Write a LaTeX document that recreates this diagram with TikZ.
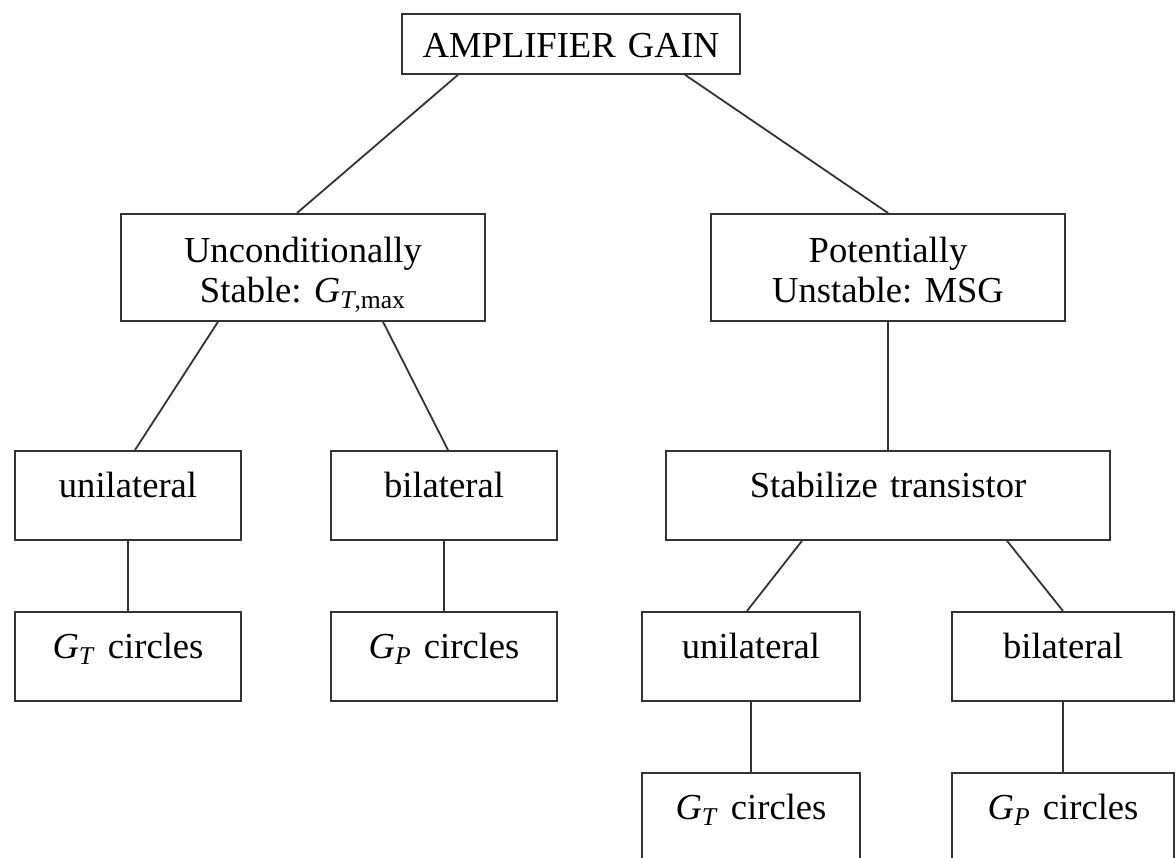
\documentclass[tikz,border=0pt]{standalone}
\usepackage{fontspec}
\setmainfont{Liberation Serif}
\frenchspacing
\newcommand{\gain}[2]{\textit{G}\textsubscript{#1#2}}
\begin{document}
\begin{tikzpicture}[x=0.5pt,y=-0.5pt,
    box/.style={draw=black!80,line width=0.9pt,text width=#1,align=center,
      inner sep=0pt,anchor=north,text height=23.5pt,text depth=21pt,
      font=\fontsize{18.3}{20}\selectfont},
    link/.style={black!80,line width=0.9pt}]
  \useasboundingbox (0,0) rectangle (1176,857);
  % top
  \node[box=169pt,text height=22pt,text depth=8pt] (amp) at (571,13) {AMPLIFIER GAIN};
  \node[box=182pt,text height=24.5pt,text depth=29pt] (uncond) at (303,213)
    {Unconditionally\\Stable: \gain{\textit{T}}{,max}};
  \node[box=177pt,text height=24.5pt,text depth=29pt] (pot) at (888,213)
    {Potentially\\Unstable: MSG};
  % third row
  \node[box=113pt] (uni1) at (128,450) {unilateral};
  \node[box=113pt] (bi1) at (444,450) {bilateral};
  \node[box=222pt] (stab) at (888,450) {Stabilize transistor};
  % fourth row
  \node[box=113pt] (gt1) at (128,611) {\gain{\textit{T}}{} circles};
  \node[box=113pt] (gp1) at (444,611) {\gain{\textit{P}}{} circles};
  \node[box=109pt] (uni2) at (751,611) {unilateral};
  \node[box=111pt] (bi2) at (1063,611) {bilateral};
  % last row, cut off at the bottom
  \node[box=109pt] (gt2) at (751,772) {\gain{\textit{T}}{} circles};
  \node[box=111pt] (gp2) at (1063,772) {\gain{\textit{P}}{} circles};
  % slanted links
  \draw[link] ([xshift=-56.5pt]amp.south) -- ([xshift=-3pt]uncond.north);
  \draw[link] ([xshift=57pt]amp.south) -- (pot.north);
  \draw[link] ([xshift=-42.5pt]uncond.south) -- ([xshift=3.5pt]uni1.north);
  \draw[link] ([xshift=40pt]uncond.south) -- ([xshift=2pt]bi1.north);
  \draw[link] ([xshift=-43pt]stab.south) -- ([xshift=-2pt]uni2.north);
  \draw[link] ([xshift=59.5pt]stab.south) -- (bi2.north);
  % straight links
  \foreach \a/\b in {pot/stab,uni1/gt1,bi1/gp1,uni2/gt2,bi2/gp2}{
    \draw[link] (\a) -- (\b);
  }
\end{tikzpicture}
\end{document}
